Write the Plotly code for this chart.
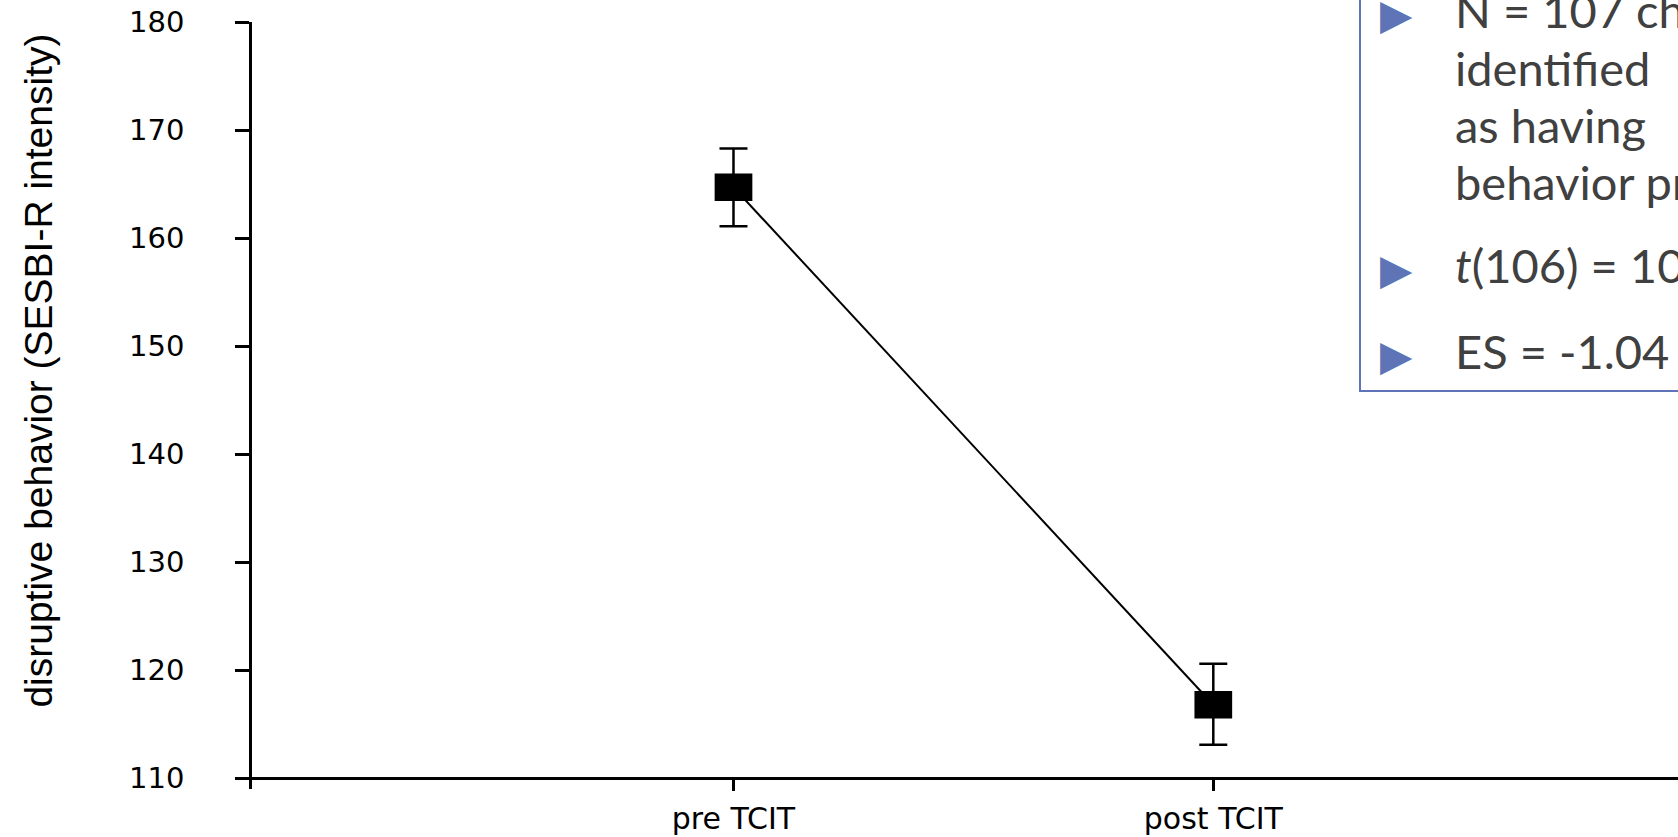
import plotly.graph_objects as go

# ---- data ----
categories = ["pre TCIT", "post TCIT"]
means = [164.7, 116.8]
se_plus = [3.6, 3.8]
se_minus = [3.6, 3.7]
y_ticks = [110, 120, 130, 140, 150, 160, 170, 180]
y_title = "disruptive behavior (SESBI-R intensity)"
bullet_lines = [
    ("N = 107 children", True),
    ("identified", False),
    ("as having", False),
    ("behavior problems", False),
    ("<i>t</i>(106) = 10", True),
    ("ES = -1.04", True),
]

# ---- layout geometry (pixels) ----
W, H = 1678, 837
L, R, T, B = 252, 0, 21.7, 47.9
PW, PH = W - L - R, H - T - B


def px2x(px):
    return (px - L) / PW


def py2y(py):
    return (H - B - py) / PH


xs = list(range(len(categories)))
box_h = 2.53      # marker height in data units
box_w = 0.0786    # marker width in x units

fig = go.Figure()

# rectangular markers
fig.add_trace(go.Bar(
    x=xs, y=[box_h] * len(xs), base=[m - box_h / 2 for m in means],
    width=box_w, marker=dict(color="black", line=dict(width=0)),
    showlegend=False, hoverinfo="skip",
))

# line + error bars
fig.add_trace(go.Scatter(
    x=xs, y=means, mode="lines",
    line=dict(color="black", width=2),
    error_y=dict(type="data", symmetric=False, array=se_plus, arrayminus=se_minus,
                 color="black", thickness=2.5, width=14),
    showlegend=False,
))

fig.update_layout(
    width=W, height=H,
    margin=dict(l=L, r=R, t=T, b=B, pad=0),
    paper_bgcolor="white", plot_bgcolor="white",
    barmode="overlay",
    xaxis=dict(
        range=[-1.0035, 1.9685], tickvals=xs, ticktext=categories,
        anchor="free", position=(110 - 109) / 71,
        showline=True, linecolor="black", linewidth=2.5,
        ticks="outside", ticklen=11, tickwidth=2.5, tickcolor="black",
        showgrid=False, zeroline=False,
        tickfont=dict(family="DejaVu Sans, Liberation Sans, Arial", size=30, color="black"),
        ticklabelstandoff=2, ticklabeloverflow="allow",
    ),
    yaxis=dict(
        range=[109, 180], tickvals=y_ticks,
        showline=True, linecolor="black", linewidth=2.5,
        ticks="outside", ticklen=14, tickwidth=2.5, tickcolor="black",
        showgrid=False, zeroline=False,
        tickfont=dict(family="DejaVu Sans, Liberation Sans, Arial", size=29, color="black"),
        ticklabelstandoff=45, ticklabeloverflow="allow",
    ),
)

annotations = [dict(
    text=y_title, textangle=-90, showarrow=False,
    xref="paper", yref="paper", x=px2x(38.5), y=py2y(371),
    xanchor="center", yanchor="middle",
    font=dict(family="Liberation Sans, Arial", size=39, color="black"),
)]

blue = "#5E74B6"
text_font = dict(family="Century Gothic, URW Gothic, Lato, sans-serif", size=47, color="#404040")
line_centers = [10, 68, 125, 182, 265, 351]
for (txt, has_bullet), cy in zip(bullet_lines, line_centers):
    annotations.append(dict(
        text=txt, showarrow=False, xref="paper", yref="paper",
        x=px2x(1453), y=py2y(cy), xanchor="left", yanchor="middle",
        font=text_font,
    ))
    if has_bullet:
        annotations.append(dict(
            text="\u25B6", showarrow=False, xref="paper", yref="paper",
            x=px2x(1396), y=py2y(cy + 4), xanchor="center", yanchor="middle",
            font=dict(family="DejaVu Sans", size=42, color=blue),
        ))

fig.update_layout(annotations=annotations)

fig.add_shape(type="rect", xref="paper", yref="paper",
              x0=px2x(1360), x1=px2x(1760), y0=py2y(391), y1=py2y(-60),
              line=dict(color=blue, width=2), fillcolor="rgba(0,0,0,0)", layer="above")

fig.write_html("out.html", config={"displayModeBar": False},
               post_script="document.body.style.margin='0px';document.body.style.overflow='hidden';")
